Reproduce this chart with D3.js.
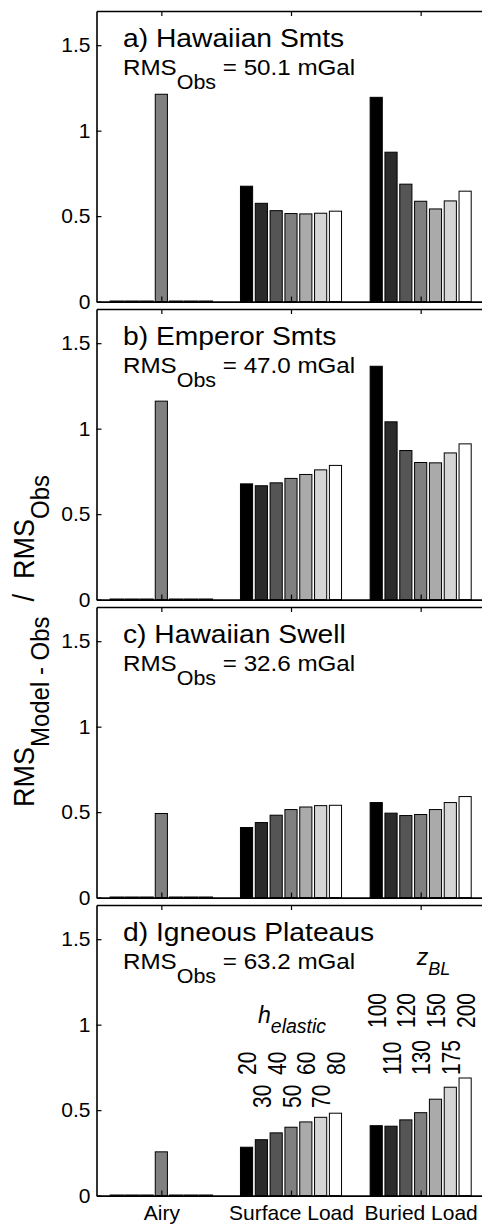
<!DOCTYPE html>
<html>
<head>
<meta charset="utf-8">
<script src="https://cdn.jsdelivr.net/npm/d3@7/dist/d3.min.js"></script>
<style>
  html, body { margin: 0; padding: 0; background: #fff; }
  svg { display: block; }
  text { font-family: "Liberation Sans", Arial, Helvetica, sans-serif; fill: #000; }
</style>
</head>
<body>
<svg id="chart" width="482" height="1226"></svg>
<script>
// ---------------- data ----------------
const categories = ["Airy", "Surface Load", "Buried Load"];
const panelTitles = ["a) Hawaiian Smts", "b) Emperor Smts", "c) Hawaiian Swell", "d) Igneous Plateaus"];
const rmsObs = ["50.1", "47.0", "32.6", "63.2"];
const yTicks = [0, 0.5, 1, 1.5];
const hElastic = [20, 30, 40, 50, 60, 70, 80];
const zBL = [100, 110, 120, 130, 150, 175, 200];

const airy = [1.213, 1.161, 0.492, 0.256];
const surfaceHawaiianSmts = [0.675, 0.575, 0.532, 0.515, 0.513, 0.517, 0.529];
const surfaceEmperorSmts  = [0.677, 0.666, 0.683, 0.709, 0.732, 0.759, 0.785];
const surfaceHawaiianSwell = [0.410, 0.439, 0.482, 0.515, 0.530, 0.538, 0.540];
const surfaceIgneousPlateaus = [0.283, 0.327, 0.367, 0.400, 0.431, 0.458, 0.482];
const buriedHawaiianSmts = [1.195, 0.874, 0.687, 0.587, 0.542, 0.589, 0.646];
const buriedEmperorSmts  = [1.365, 1.040, 0.872, 0.802, 0.800, 0.858, 0.911];
const buriedHawaiianSwell = [0.556, 0.494, 0.480, 0.486, 0.515, 0.556, 0.591];
const buriedIgneousPlateaus = [0.409, 0.406, 0.443, 0.485, 0.564, 0.634, 0.688];

const surfaceLoad = [surfaceHawaiianSmts, surfaceEmperorSmts, surfaceHawaiianSwell, surfaceIgneousPlateaus];
const buriedLoad = [buriedHawaiianSmts, buriedEmperorSmts, buriedHawaiianSwell, buriedIgneousPlateaus];

// ---------------- layout ----------------
const fills = ["#000000", "#2b2b2b", "#555555", "#808080", "#aaaaaa", "#d5d5d5", "#ffffff"];
const nSeries = 7;
const left = 96.5, plotW = 389;
const panelH = 290.6, panelStep = 298;
const firstTop = 11;

const svg = d3.select("#chart");
const x = d3.scaleLinear().domain([0.5, 3.5]).range([left, left + plotW]);
const pitch = 0.8 / nSeries;
const barW = x(0.5 + pitch * 0.82) - x(0.5);

panelTitles.forEach((title, p) => {
  const top = firstTop + p * panelStep;
  const zero = top + panelH;
  const y = d3.scaleLinear().domain([0, 1.7]).range([zero, top]);
  const g = svg.append("g");

  // bar data
  const rows = [];
  categories.forEach((c, gi) => {
    for (let j = 0; j < nSeries; j++) {
      let v;
      if (gi === 0) v = (j === 3) ? airy[p] : 0;
      else if (gi === 1) v = surfaceLoad[p][j];
      else v = buriedLoad[p][j];
      rows.push({ group: gi + 1, series: j, value: v });
    }
  });

  // zero-height bars drawn as flat lines merged into the baseline
  g.selectAll("line.zbar").data(rows.filter(d => d.value === 0)).enter()
    .append("line").attr("class", "zbar")
    .attr("x1", d => x(d.group + (d.series - 3) * pitch) - barW / 2 - 1.2)
    .attr("x2", d => x(d.group + (d.series - 3) * pitch) + barW / 2 + 1.2)
    .attr("y1", zero - 0.4).attr("y2", zero - 0.4)
    .attr("stroke", "#000").attr("stroke-width", 1.4);

  g.selectAll("rect.bar").data(rows.filter(d => d.value > 0)).enter()
    .append("rect").attr("class", "bar")
    .attr("x", d => x(d.group + (d.series - 3) * pitch) - barW / 2)
    .attr("y", d => y(d.value))
    .attr("width", barW)
    .attr("height", d => zero - y(d.value))
    .attr("fill", d => fills[d.series])
    .attr("stroke", "#000")
    .attr("stroke-width", 1);

  // left axis
  const yAxis = d3.axisLeft(y).tickValues(yTicks)
    .tickFormat(d => d === 0 ? "0" : String(d))
    .tickSizeInner(-5).tickSizeOuter(0).tickPadding(6);
  const ya = g.append("g").attr("transform", `translate(${left},0)`).call(yAxis);
  ya.selectAll("text").style("font-size", "21px");

  // top axis (ticks only)
  const topAxis = d3.axisTop(x).tickValues([1, 2, 3]).tickFormat("")
    .tickSizeInner(-5).tickSizeOuter(0);
  g.append("g").attr("transform", `translate(0,${top})`).call(topAxis);

  // bottom axis
  const bottomAxis = d3.axisBottom(x).tickValues([1, 2, 3])
    .tickFormat((d, i) => p === 3 ? categories[i] : "")
    .tickSizeInner(-5).tickSizeOuter(0).tickPadding(9);
  const ba = g.append("g").attr("transform", `translate(0,${zero})`).call(bottomAxis);
  ba.selectAll("text").style("font-size", "21px");

  svg.selectAll(".domain").attr("stroke", "#000").attr("stroke-width", 1.6);
  svg.selectAll(".tick line").attr("stroke", "#000").attr("stroke-width", 1.2);

  // panel texts (slightly wide lettering as in the reference)
  g.append("text")
    .attr("transform", `translate(123,${top + 35.5}) scale(1.13,1)`)
    .style("font-size", "25px").text(title);
  const t2 = g.append("text")
    .attr("transform", `translate(123,${top + 64}) scale(1.1,1)`)
    .style("font-size", "22px");
  t2.append("tspan").text("RMS");
  t2.append("tspan").attr("dy", 14.3).style("font-size", "19.5px").text("Obs");
  t2.append("tspan").attr("dy", -14.3).text(" = " + rmsObs[p] + " mGal");

  // annotations for last panel
  if (p === 3) {
    const h = g.append("text").attr("x", x(2) - 33).attr("y", top + 118)
      .style("font-size", "23px").style("font-style", "italic");
    h.append("tspan").text("h");
    h.append("tspan").attr("dy", 10).style("font-size", "19.5px").text("elastic");

    const z = g.append("text").attr("x", x(3) - 4).attr("y", top + 60)
      .style("font-size", "23px").style("font-style", "italic");
    z.append("tspan").text("z");
    z.append("tspan").attr("dy", 10).style("font-size", "18px").text("BL");

    const surfLabs = hElastic.map((v, j) => ({ v, j, group: 2 }));
    const burLabs = zBL.map((v, j) => ({ v, j, group: 3 }));
    const lab = surfLabs.concat(burLabs);
    g.selectAll("text.num").data(lab).enter().append("text").attr("class", "num")
      .attr("transform", d => {
        const cx = x(d.group + (d.j - 3) * pitch);
        let yb;
        if (d.group === 2) yb = (d.j % 2 === 0) ? top + 170 : top + 203;
        else yb = (d.j % 2 === 0) ? top + 123 : top + 170;
        return `translate(${cx},${yb}) rotate(-90) scale(1,1.22)`;
      })
      .attr("y", 7.8)
      .style("font-size", "21px")
      .text(d => d.v);
  }
});

// y label
const yl = svg.append("text")
  .attr("transform", "translate(34,641) rotate(-90) scale(1,1.1)")
  .attr("text-anchor", "middle")
  .style("font-size", "27px");
yl.append("tspan").text("RMS");
yl.append("tspan").attr("dy", 14).style("font-size", "24px").text("Model - Obs");
yl.append("tspan").attr("dy", -14).text("  /  RMS");
yl.append("tspan").attr("dy", 14).style("font-size", "24px").text("Obs");
yl.attr("xml:space", "preserve").style("white-space", "pre");
</script>
</body>
</html>
